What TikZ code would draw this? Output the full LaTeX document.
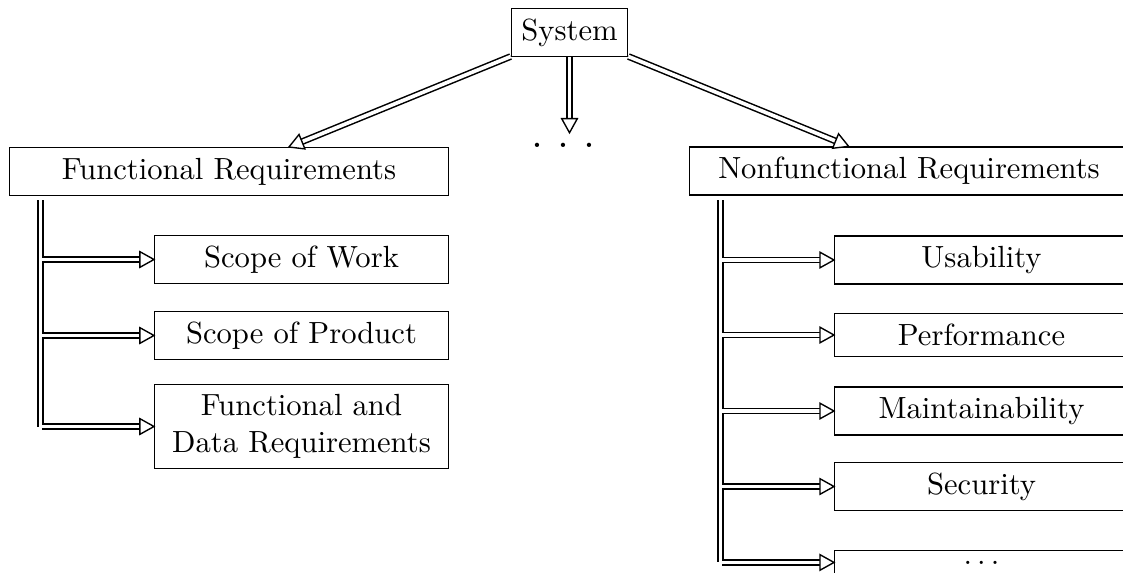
\documentclass[tikz,border=0pt]{standalone}
\usetikzlibrary{decorations.markings}
\begin{document}
\begin{tikzpicture}[x=0.3268pt, y=-0.3268pt,
  box/.style={draw, line width=0.4pt, inner sep=3.333pt},
  topbox/.style={box, minimum width=143.4pt},
  subbox/.style={box, minimum width=96pt},
  dline/.style={double, double distance=1.2pt, line width=0.5pt},
  % double line ending in an open triangular head
  dbl/.style={dline, shorten >=3pt,
    postaction={decorate, decoration={markings,
      mark=at position 1 with {\draw[line width=0.45pt, fill=white,
        shorten >=0pt, line join=miter]
        (0,0) -- (-4.6pt,2.55pt) -- (-4.6pt,-2.55pt) -- cycle;}}}},
]
\useasboundingbox (0,0) rectangle (1123,572);
\clip (0,0) rectangle (1123,572);

% root and the two requirement groups
\node[box] (sys) at (569.5,32.5) {System};
\node[topbox] (fr) at (229,171.5) {Functional Requirements};
\node[topbox] (nfr) at (909,171) {Nonfunctional Requirements};
\node[inner sep=3.333pt, font=\Large] (dots) at (563.5,145.7) {.\ .\ .};

% functional requirements
\node[subbox] (sow) at (301.5,259.5) {Scope of Work};
\node[subbox] (sop) at (301.5,335.5) {Scope of Product};
\node[subbox, align=center] (fdr) at (301.5,426.5) {Functional and\\Data Requirements};

% nonfunctional requirements
\node[subbox] (usab) at (981.5,260) {Usability};
\node[subbox] (perf) at (981.5,335) {Performance};
\node[subbox] (maint) at (981.5,411) {Maintainability};
\node[subbox] (sec) at (981.5,486.5) {Security};
\node[subbox, anchor=north] (more) at (981.5,550) {.\kern1.67pt.\kern1.67pt.};

% arrows from the root
\draw[dbl] (sys) -- (fr);
\draw[dbl] (sys) -- (nfr);
\draw[dbl] (sys.south) -- (sys.south |- dots.north);

% trunks below each group
\coordinate (ftop) at (40.5,200);
\coordinate (ntop) at (720.5,200);
\draw[dline] (ftop) -- (ftop |- fdr.west);
\draw[dline] (ntop) -- (ntop |- more.west);

% branches into the sub-items
\foreach \n in {sow,sop,fdr}
  \draw[dbl] ([xshift=0.5pt]ftop |- \n.west) -- (\n.west);
\foreach \n in {usab,perf,maint,sec,more}
  \draw[dbl] ([xshift=0.5pt]ntop |- \n.west) -- (\n.west);
\end{tikzpicture}
\end{document}
